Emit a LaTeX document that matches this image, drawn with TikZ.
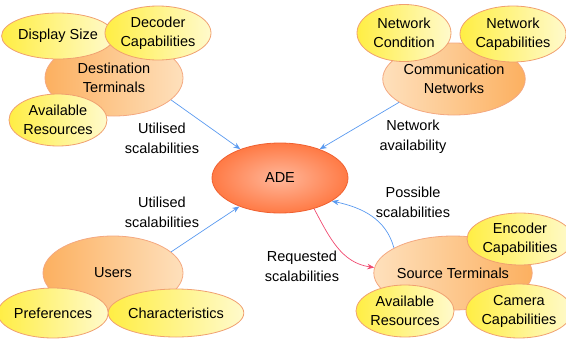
\documentclass[tikz,border=0pt]{standalone}
\usepackage{fontspec}
\setmainfont{Liberation Sans}
\usetikzlibrary{shapes.geometric,arrows.meta}
\definecolor{mainL}{HTML}{FCB060}
\definecolor{mainR}{HTML}{FEE0BC}
\definecolor{mainB}{HTML}{F4A880}
\definecolor{satL}{HTML}{FFEE44}
\definecolor{satR}{HTML}{FFFACC}
\definecolor{satB}{HTML}{F0A070}
\definecolor{adeI}{HTML}{FFB79A}
\definecolor{adeO}{HTML}{FF7A45}
\definecolor{adeB}{HTML}{F06030}
\definecolor{blueA}{HTML}{5A9AF0}
\definecolor{redA}{HTML}{F04A70}
\tikzset{
  ell/.style={ellipse,inner sep=0pt,align=center,font=\fontsize{14.5}{19}\selectfont},
  mainell/.style={ell,draw=mainB,line width=0.8pt,left color=mainL,right color=mainR},
  mainellr/.style={ell,draw=mainB,line width=0.8pt,left color=mainR,right color=mainL},
  satell/.style={ell,draw=satB,line width=0.8pt,left color=satL,right color=satR},
  adeell/.style={ell,draw=adeB,line width=0.8pt,inner color=adeI,outer color=adeO},
  lbl/.style={align=center,font=\fontsize{14.5}{20}\selectfont},
  conn/.style={line width=0.7pt,-{Stealth[length=7pt,width=5.5pt]}},
}
\begin{document}
\begin{tikzpicture}[x=1pt,y=-1pt]
\useasboundingbox (0,0) rectangle (566,338);
% main ellipses
\node[mainell,minimum width=138pt,minimum height=76pt] (dest) at (114,78) {Destination\\Terminals};
\node[mainellr,minimum width=138pt,minimum height=72pt] (comm) at (454,79) {Communication\\Networks};
\node[mainell,minimum width=140pt,minimum height=74pt] (users) at (113,273) {Users};
\node[mainellr,minimum width=140pt,minimum height=74pt] (src) at (453,273) {Source Terminals};
\node[adeell,minimum width=136pt,minimum height=70pt] (ade) at (280,178) {ADE};
% satellites
\node[satell,minimum width=96pt,minimum height=46pt] (disp) at (58,36) {Display Size};
\node[satell,minimum width=92pt,minimum height=54pt] (dec) at (158,33) {Decoder\\Capabilities};
\node[satell,minimum width=96pt,minimum height=52pt] (avr1) at (58,120) {Available\\Resources};
\node[satell,minimum width=94pt,minimum height=57pt] (ncond) at (404,33) {Network\\Condition};
\node[satell,minimum width=96pt,minimum height=56pt] (ncap) at (513,34) {Network\\Capabilities};
\node[satell,minimum width=94pt,minimum height=50pt] (pref) at (53,313) {Preferences};
\node[satell,minimum width=106pt,minimum height=48pt] (char) at (176,313) {Characteristics};
\node[satell,minimum width=94pt,minimum height=52pt] (enc) at (520,239) {Encoder\\Capabilities};
\node[satell,minimum width=94pt,minimum height=52pt] (avr2) at (405,311) {Available\\Resources};
\node[satell,minimum width=94pt,minimum height=54pt] (cam) at (519,311) {Camera\\Capabilities};
% connectors
\draw[conn,blueA] (dest.-21) -- (ade.144);
\draw[conn,blueA] (comm.203) -- (ade.36);
\draw[conn,blueA] (users.20) -- (ade.215);
\draw[conn,redA] (ade.-42) to[out=-62,in=172] (src.176);
\draw[conn,blueA] (src.157) to[out=105,in=-12] (ade.-24);
% labels
\node[lbl] (l1) at (162,138) {Utilised\\scalabilities};
\node[lbl] (l2) at (413,137) {Network\\availability};
\node[lbl] (l3) at (162,212) {Utilised\\scalabilities};
\node[lbl] (l4) at (413,202) {Possible\\scalabilities};
\node[lbl] (l5) at (302,266) {Requested\\scalabilities};
\end{tikzpicture}
\end{document}
